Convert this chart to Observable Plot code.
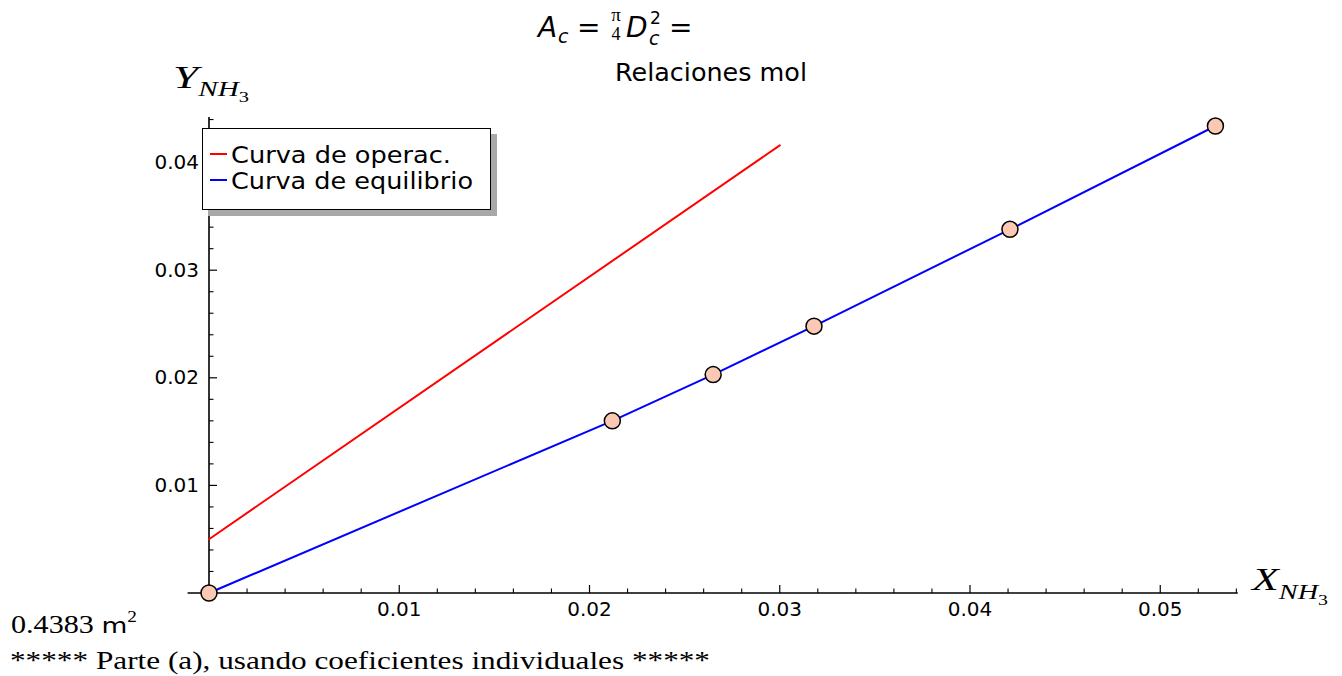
<!DOCTYPE html>
<html>
<head>
<meta charset="utf-8">
<script src="https://cdn.jsdelivr.net/npm/d3@7"></script>
<script src="https://cdn.jsdelivr.net/npm/@observablehq/plot@0.6"></script>
<style>
html, body { margin: 0; padding: 0; background: #fff; }
#wrap { position: relative; width: 1342px; height: 676px; overflow: hidden; }
#wrap svg { position: absolute; left: 0; top: 0; }
.ov { position: absolute; white-space: nowrap; line-height: 1; transform-origin: 0 0; color: #000; }
.sans { font-family: "DejaVu Sans", sans-serif; }
.serif { font-family: "Liberation Serif", serif; }
.it { font-style: italic; }
.sh { position: relative; }
.legend { position: absolute; box-sizing: border-box; background: #fff; border: 1.5px solid #000; box-shadow: 6px 6px 0 #a8a8a8; }
.sw { position: absolute; height: 2px; width: 17px; }
</style>
</head>
<body>
<div id="wrap"></div>
<script>
// ---------------- data ----------------
const equilX = [0, 0.0212, 0.0265, 0.0318, 0.0421, 0.0529];
const equilY = [0, 0.0160, 0.0203, 0.0248, 0.0338, 0.0434];
const operX = [0, 0.0300];
const operY = [0.0050, 0.0416];
const xTicks = [0.01, 0.02, 0.03, 0.04, 0.05];
const xTickLabels = ["0.01", "0.02", "0.03", "0.04", "0.05"];
const yTicks = [0.01, 0.02, 0.03, 0.04];
const yTickLabels = ["0.01", "0.02", "0.03", "0.04"];
const seriesNames = ["Curva de operac.", "Curva de equilibrio"];
const seriesColors = ["#ff0000", "#0000ff"];
const titleText = "Relaciones mol";
const areaText = "0.4383 ";
const partText = "***** Parte (a), usando coeficientes individuales *****";

// ---------------- layout ----------------
const W = 1342, H = 676;
const x0px = 208.5, kx = 19025, y0px = 592.5, ky = 10760;
const xDomain = [-0.0011, 0.0541];
const yDomain = [-0.0005, 0.0442];
const mL = x0px + xDomain[0] * kx;
const mR = W - (x0px + xDomain[1] * kx);
const mT = y0px - yDomain[1] * ky;
const mB = H - (y0px - yDomain[0] * ky);

const isMajor = v => Math.abs(v * 100 - Math.round(v * 100)) < 1e-6;
const xMinor = d3.range(1, 28).map(i => i * 0.002).filter(v => !isMajor(v));
const yMinor = d3.range(1, 23).map(i => i * 0.002).filter(v => !isMajor(v));

const vTick = len => ({ draw(ctx) { ctx.moveTo(0, 0); ctx.lineTo(0, -len); } });
const hTick = len => ({ draw(ctx) { ctx.moveTo(0, 0); ctx.lineTo(len, 0); } });

const equil = equilX.map((x, i) => ({ x, y: equilY[i] }));
const oper = operX.map((x, i) => ({ x, y: operY[i] }));
const xt = xTicks.map((v, i) => ({ v, label: xTickLabels[i] }));
const yt = yTicks.map((v, i) => ({ v, label: yTickLabels[i] }));

const chart = Plot.plot({
  width: W, height: H,
  marginLeft: mL, marginRight: mR, marginTop: mT, marginBottom: mB,
  x: { domain: xDomain, axis: null },
  y: { domain: yDomain, axis: null },
  style: { fontFamily: "DejaVu Sans", background: "transparent" },
  marks: [
    Plot.ruleY([0], { x1: xDomain[0], x2: xDomain[1], stroke: "black", strokeWidth: 1.6 }),
    Plot.ruleX([0], { y1: yDomain[0], y2: yDomain[1], stroke: "black", strokeWidth: 1.6 }),
    Plot.dot(xTicks, { x: d => d, y: () => 0, symbol: vTick(8), stroke: "black", strokeWidth: 1.2, fill: "none" }),
    Plot.dot(xMinor, { x: d => d, y: () => 0, symbol: vTick(4.5), stroke: "black", strokeWidth: 1.1, fill: "none" }),
    Plot.dot(yTicks, { x: () => 0, y: d => d, symbol: hTick(8), stroke: "black", strokeWidth: 1.2, fill: "none" }),
    Plot.dot(yMinor, { x: () => 0, y: d => d, symbol: hTick(4.5), stroke: "black", strokeWidth: 1.1, fill: "none" }),
    Plot.text(xt, { x: "v", y: () => 0, text: "label", dy: 17, fontSize: 20, fontFamily: "DejaVu Sans", fill: "black" }),
    Plot.text(yt, { x: () => 0, y: "v", text: "label", dx: -10, textAnchor: "end", fontSize: 20, fontFamily: "DejaVu Sans", fill: "black" }),
    Plot.line(oper, { x: "x", y: "y", stroke: seriesColors[0], strokeWidth: 2 }),
    Plot.line(equil, { x: "x", y: "y", stroke: seriesColors[1], strokeWidth: 2 }),
    Plot.dot(equil, { x: "x", y: "y", r: 8, fill: "#fbc8b4", stroke: "black", strokeWidth: 1.5 })
  ]
});
const wrap = document.getElementById("wrap");
wrap.appendChild(chart);

// ---------------- overlay texts ----------------
const ASC = { sans: 0.846, serif: 0.837 };
const fits = [];
function addText(html, { left, baseline, size, family = "sans", cls = "", width = null, center = false }) {
  const el = document.createElement("div");
  el.className = `ov ${family} ${cls}`;
  el.innerHTML = html;
  el.style.fontSize = size + "px";
  el.style.top = (baseline - ASC[family] * size) + "px";
  el.style.left = left + "px";
  wrap.appendChild(el);
  if (center) fits.push({ el, center: left });
  else if (width) fits.push({ el, width, left });
  return el;
}
function doFit() {
  for (const f of fits) {
    f.el.style.transform = "none";
    const w = f.el.getBoundingClientRect().width;
    if (f.center !== undefined) {
      f.el.style.left = (f.center - w / 2) + "px";
    } else if (w > 0) {
      f.el.style.transform = `scaleX(${f.width / w})`;
    }
  }
}

// title formula  A_c = (π/4) D_c^2 =
addText("A", { left: 538, baseline: 38, size: 28, cls: "it" });
addText("c", { left: 558, baseline: 43, size: 19, cls: "it" });
addText("=", { left: 577, baseline: 38, size: 28 });
addText("π", { left: 616, baseline: 21, size: 19, family: "serif", center: true });
addText("4", { left: 616, baseline: 40, size: 18, family: "serif", center: true });
addText("D", { left: 626, baseline: 38, size: 28, cls: "it" });
addText("2", { left: 650, baseline: 24, size: 17 });
addText("c", { left: 649, baseline: 45, size: 19, cls: "it" });
addText("=", { left: 669, baseline: 38, size: 28 });

// subtitle
addText(titleText, { left: 615, baseline: 81, size: 24, width: 192 });

// axis labels
addText('<span class="it">Y</span><span class="it sh" style="font-size:20px;top:8px">NH</span><span class="sh" style="font-size:14px;top:14px">3</span>',
  { left: 173, baseline: 88, size: 31, family: "serif", width: 76 });
addText('<span class="it">X</span><span class="it sh" style="font-size:20px;top:9px">NH</span><span class="sh" style="font-size:14px;top:15px">3</span>',
  { left: 1252, baseline: 590, size: 31, family: "serif", width: 76 });

// bottom texts
addText(areaText + '<span class="sans" style="font-size:22px">m</span><span class="sh" style="font-size:16px;top:-11px">2</span>',
  { left: 11, baseline: 633, size: 25, family: "serif", width: 126 });
addText(partText, { left: 10, baseline: 669, size: 25, family: "serif", width: 700 });

// legend
const lg = document.createElement("div");
lg.className = "legend";
Object.assign(lg.style, { left: "202px", top: "128px", width: "289px", height: "82px" });
wrap.appendChild(lg);
const rowBase = [164, 190], rowLine = [154, 180];
seriesNames.forEach((name, i) => {
  const sw = document.createElement("div");
  sw.className = "sw";
  Object.assign(sw.style, { left: "210px", top: (rowLine[i] - 1) + "px", background: seriesColors[i], zIndex: 2 });
  wrap.appendChild(sw);
  const t = addText(name, { left: 231, baseline: rowBase[i], size: 23.5, width: i === 0 ? 220 : 242 });
  t.style.zIndex = 2;
});

doFit();
if (document.fonts && document.fonts.ready) document.fonts.ready.then(doFit);
</script>
</body>
</html>
